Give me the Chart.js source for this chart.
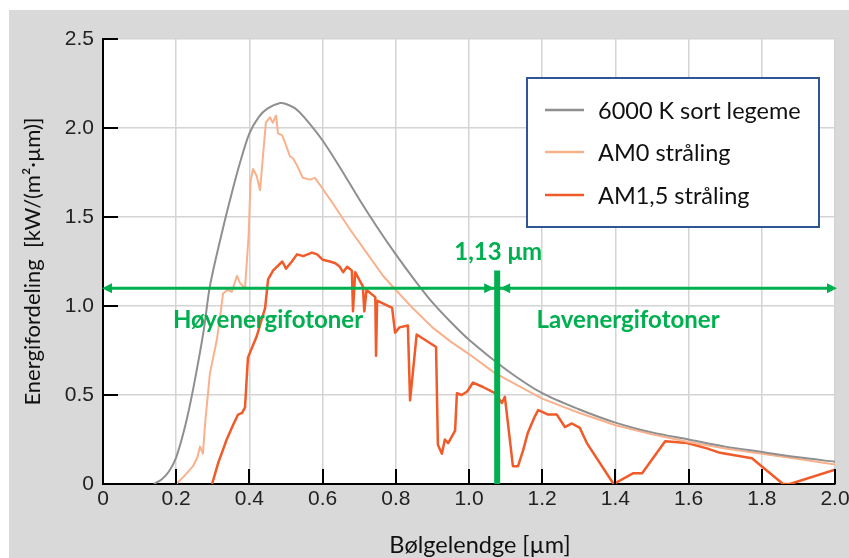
<!DOCTYPE html>
<html>
<head>
<meta charset="utf-8">
<script src="https://cdn.jsdelivr.net/npm/chart.js@4"></script>
<style>
  html, body { margin: 0; padding: 0; background: #fff; }
</style>
</head>
<body>
<canvas id="myChart" width="849" height="558"></canvas>
<script>
// wavelength (µm) / value (kW/(m²·µm)) pairs
const blackbodyX = [0.139, 0.16, 0.18, 0.2, 0.225, 0.246, 0.275, 0.292, 0.327, 0.35, 0.375, 0.4, 0.425, 0.45, 0.484, 0.5, 0.525, 0.55, 0.6, 0.65, 0.7, 0.75, 0.8, 0.85, 0.9, 0.95, 1.0, 1.1, 1.2, 1.3, 1.4, 1.5, 1.6, 1.7, 1.8, 1.9, 2.0];
const blackbodyY = [0, 0.025, 0.07, 0.15, 0.33, 0.53, 0.86, 1.11, 1.43, 1.62, 1.81, 1.97, 2.06, 2.11, 2.14, 2.135, 2.11, 2.06, 1.93, 1.77, 1.60, 1.44, 1.29, 1.15, 1.02, 0.91, 0.81, 0.645, 0.51, 0.42, 0.345, 0.29, 0.25, 0.21, 0.18, 0.15, 0.125];

const am0X = [0.2, 0.22, 0.246, 0.258, 0.265, 0.273, 0.279, 0.292, 0.3, 0.311, 0.32, 0.328, 0.34, 0.352, 0.366, 0.374, 0.388, 0.398, 0.403, 0.41, 0.42, 0.429, 0.437, 0.445, 0.456, 0.464, 0.473, 0.478, 0.489, 0.497, 0.511, 0.519, 0.53, 0.546, 0.566, 0.579, 0.593, 0.63, 0.675, 0.72, 0.765, 0.8, 0.85, 0.9, 0.95, 1.0, 1.066, 1.1, 1.2, 1.249, 1.3, 1.4, 1.5, 1.6, 1.7, 1.8, 1.9, 2.0];
const am0Y = [0, 0.04, 0.10, 0.15, 0.21, 0.17, 0.34, 0.62, 0.70, 0.81, 0.94, 1.07, 1.09, 1.08, 1.17, 1.13, 1.10, 1.40, 1.70, 1.77, 1.73, 1.65, 1.84, 2.03, 2.06, 2.03, 2.07, 1.97, 1.96, 1.92, 1.84, 1.83, 1.79, 1.72, 1.71, 1.72, 1.68, 1.57, 1.43, 1.30, 1.17, 1.09, 0.98, 0.88, 0.80, 0.73, 0.63, 0.59, 0.48, 0.44, 0.40, 0.33, 0.28, 0.236, 0.20, 0.17, 0.14, 0.11];

const am15X = [0.298, 0.315, 0.338, 0.355, 0.369, 0.38, 0.388, 0.396, 0.42, 0.443, 0.451, 0.465, 0.475, 0.49, 0.5, 0.516, 0.53, 0.547, 0.571, 0.585, 0.6, 0.62, 0.635, 0.647, 0.656, 0.667, 0.68, 0.683, 0.689, 0.71, 0.714, 0.72, 0.744, 0.746, 0.749, 0.79, 0.798, 0.81, 0.833, 0.839, 0.857, 0.91, 0.915, 0.926, 0.934, 0.943, 0.962, 0.967, 0.98, 0.995, 1.011, 1.038, 1.071, 1.09, 1.098, 1.12, 1.134, 1.148, 1.161, 1.18, 1.189, 1.2, 1.216, 1.24, 1.262, 1.281, 1.303, 1.322, 1.395, 1.448, 1.473, 1.536, 1.596, 1.65, 1.686, 1.773, 1.858, 1.877, 2.0];
const am15Y = [0, 0.12, 0.25, 0.33, 0.39, 0.40, 0.43, 0.71, 0.83, 0.99, 1.15, 1.20, 1.22, 1.25, 1.21, 1.25, 1.29, 1.28, 1.30, 1.29, 1.26, 1.25, 1.24, 1.22, 1.19, 1.22, 1.20, 0.97, 1.19, 1.11, 0.97, 1.09, 1.05, 0.72, 1.03, 0.99, 0.85, 0.88, 0.89, 0.47, 0.84, 0.77, 0.22, 0.17, 0.25, 0.23, 0.30, 0.51, 0.50, 0.52, 0.57, 0.545, 0.51, 0.455, 0.49, 0.10, 0.10, 0.19, 0.29, 0.38, 0.415, 0.405, 0.39, 0.39, 0.32, 0.34, 0.315, 0.23, 0, 0.06, 0.06, 0.24, 0.23, 0.20, 0.175, 0.145, 0, 0, 0.08];

const seriesNames = ["6000 K sort legeme", "AM0 stråling", "AM1,5 stråling"];
const xTickLabels = ["0", "0.2", "0.4", "0.6", "0.8", "1.0", "1.2", "1.4", "1.6", "1.8", "2.0"];
const yTickLabels = ["0", "0.5", "1.0", "1.5", "2.0", "2.5"];

const cutoff = 1.077;   // where the green bar sits on the x axis
const cutoffLabel = "1,13 μm";
const arrowLevel = 1.1;
const barTop = 1.2;

const green = "#00b050";
const calibri = "Lato, 'Noto Sans', sans-serif";

const pts = (xs, ys) => xs.map((x, i) => ({ x, y: ys[i] }));

function head(ctx, tipX, y, dir) {
  ctx.beginPath();
  ctx.moveTo(tipX, y);
  ctx.lineTo(tipX - dir * 10, y - 5);
  ctx.lineTo(tipX - dir * 10, y + 5);
  ctx.closePath();
  ctx.fill();
}

const decor = {
  id: "decor",
  beforeDraw(chart) {
    const { ctx, chartArea: a } = chart;
    ctx.save();
    ctx.fillStyle = "#fff";
    ctx.fillRect(0, 0, chart.width, chart.height);
    ctx.fillStyle = "#d9d9d9";
    ctx.fillRect(9, 10, chart.width - 9, chart.height - 10);
    ctx.fillStyle = "#fff";
    ctx.fillRect(a.left, a.top, a.right - a.left, a.bottom - a.top);
    ctx.restore();
  },
  afterDatasetsDraw(chart) {
    const { ctx, chartArea: a, scales } = chart;
    const xs = scales.x, ys = scales.y;
    ctx.save();

    // inward tick marks
    ctx.strokeStyle = "#000";
    ctx.lineWidth = 2;
    xs.ticks.forEach((t) => {
      const px = Math.round(xs.getPixelForValue(t.value));
      ctx.beginPath();
      ctx.moveTo(px, a.bottom);
      ctx.lineTo(px, a.bottom - 15);
      ctx.stroke();
    });
    ys.ticks.forEach((t) => {
      const py = Math.round(ys.getPixelForValue(t.value));
      ctx.beginPath();
      ctx.moveTo(a.left, py);
      ctx.lineTo(a.left + 15, py);
      ctx.stroke();
    });

    // green markers
    const vx = xs.getPixelForValue(cutoff);
    const hy = ys.getPixelForValue(arrowLevel);
    const x0 = xs.getPixelForValue(0);
    const x1 = xs.getPixelForValue(2);
    ctx.strokeStyle = green;
    ctx.fillStyle = green;
    ctx.lineWidth = 3;
    ctx.beginPath();
    ctx.moveTo(x0 + 6, hy);
    ctx.lineTo(x1 - 6, hy);
    ctx.stroke();
    head(ctx, x0 - 1, hy, -1);
    head(ctx, x1 + 2, hy, 1);
    head(ctx, vx - 3, hy, 1);
    head(ctx, vx + 3, hy, -1);

    ctx.lineWidth = 6;
    ctx.beginPath();
    ctx.moveTo(vx, ys.getPixelForValue(barTop));
    ctx.lineTo(vx, a.bottom);
    ctx.stroke();

    ctx.font = "bold 24px " + calibri;
    ctx.textAlign = "center";
    ctx.textBaseline = "alphabetic";
    ctx.fillText(cutoffLabel, vx + 1, 260);
    ctx.fillText("Høyenergifotoner", 268, 328);
    ctx.fillText("Lavenergifotoner", 628, 328);

    // legend box
    ctx.fillStyle = "#fff";
    ctx.fillRect(527, 78, 292, 149);
    ctx.strokeStyle = "#2f5597";
    ctx.lineWidth = 2;
    ctx.strokeRect(527, 78, 292, 149);
    const rows = [119, 161, 204];
    ctx.font = "23.5px " + calibri;
    ctx.textAlign = "left";
    chart.data.datasets.forEach((ds, i) => {
      ctx.strokeStyle = ds.borderColor;
      ctx.lineWidth = 2.5;
      ctx.beginPath();
      ctx.moveTo(545, rows[i] - 9);
      ctx.lineTo(584, rows[i] - 9);
      ctx.stroke();
      ctx.fillStyle = "#111";
      ctx.fillText(ds.label, 598, rows[i]);
    });

    // axis titles
    ctx.fillStyle = "#111";
    ctx.font = "23.5px " + calibri;
    ctx.textAlign = "center";
    ctx.fillText("Bølgelendge [µm]", 480, 553);
    ctx.font = "22px " + calibri;
    ctx.translate(33, (a.top + a.bottom) / 2);
    ctx.rotate(-Math.PI / 2);
    ctx.textBaseline = "middle";
    ctx.fillText("Energifordeling  [kW/(m²·µm)]", 0, 0);
    ctx.restore();
  },
};

const tickFont = { family: "'Liberation Sans', Arial, sans-serif", size: 21 };

new Chart(document.querySelector("#myChart"), {
  type: "line",
  data: {
    datasets: [
      {
        label: seriesNames[0],
        data: pts(blackbodyX, blackbodyY),
        borderColor: "#8f8f8f",
        borderWidth: 2,
        tension: 0.3,
      },
      {
        label: seriesNames[1],
        data: pts(am0X, am0Y),
        borderColor: "#f9b18c",
        borderWidth: 2,
      },
      {
        label: seriesNames[2],
        data: pts(am15X, am15Y),
        borderColor: "#f15a29",
        borderWidth: 2.5,
      },
    ],
  },
  options: {
    responsive: false,
    animation: false,
    elements: { point: { radius: 0 }, line: { borderJoinStyle: "round" } },
    layout: { padding: { top: 39, right: 14, left: 0, bottom: 0 } },
    plugins: { legend: { display: false }, tooltip: { enabled: false } },
    scales: {
      x: {
        type: "linear",
        min: 0,
        max: 2,
        afterFit: (s) => { s.height = 74; s.paddingLeft = 0; s.paddingRight = 0; },
        ticks: {
          stepSize: 0.2,
          color: "#222",
          font: tickFont,
          padding: 3,
          maxRotation: 0,
          autoSkip: false,
          callback: (v, i) => xTickLabels[i],
        },
        grid: { color: "#d4d4d4", lineWidth: 1.5, drawTicks: false },
        border: { color: "#000", width: 2 },
      },
      y: {
        min: 0,
        max: 2.5,
        afterFit: (s) => { s.width = 103; s.paddingTop = 0; s.paddingBottom = 0; },
        ticks: {
          stepSize: 0.5,
          color: "#222",
          font: tickFont,
          padding: 9,
          callback: (v, i) => yTickLabels[i],
        },
        grid: { color: "#d4d4d4", lineWidth: 1.5, drawTicks: false },
        border: { color: "#000", width: 2 },
      },
    },
  },
  plugins: [decor],
});
</script>
</body>
</html>
